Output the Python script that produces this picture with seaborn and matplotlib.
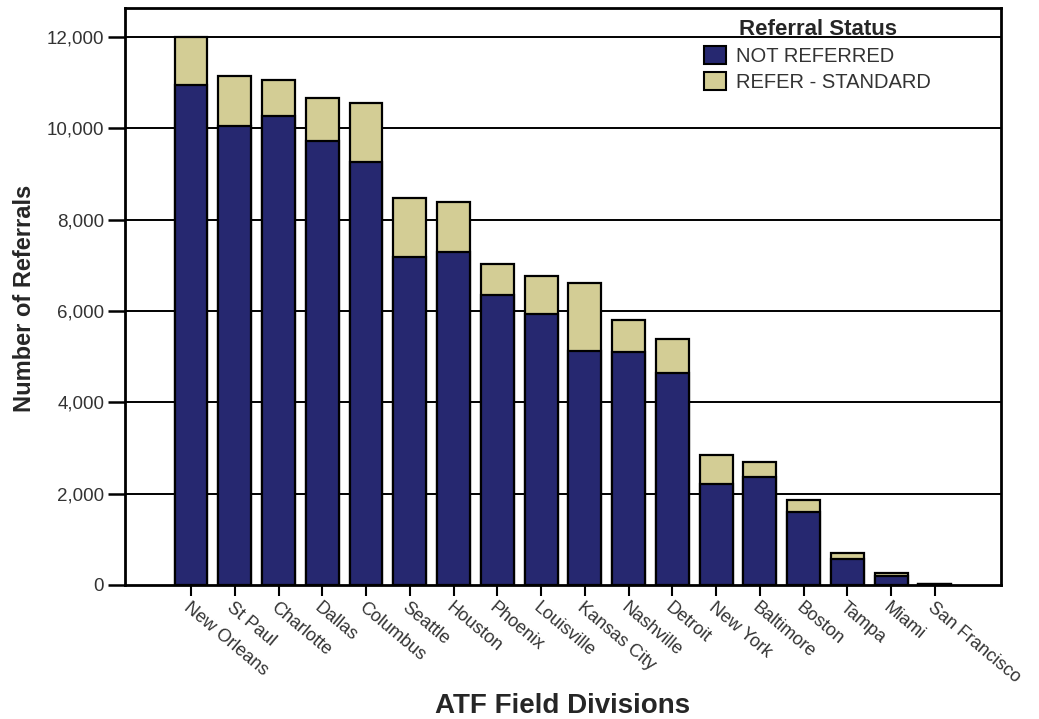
import numpy as np
import pandas as pd
import matplotlib
matplotlib.use("Agg")
import matplotlib.pyplot as plt
import matplotlib.ticker as ticker
from matplotlib.patches import Patch
import seaborn as sns

divisions = ["New Orleans", "St Paul", "Charlotte", "Dallas", "Columbus", "Seattle",
             "Houston", "Phoenix", "Louisville", "Kansas City", "Nashville", "Detroit",
             "New York", "Baltimore", "Boston", "Tampa", "Miami", "San Francisco"]
not_referred = [10950, 10040, 10280, 9720, 9260, 7190, 7290, 6340, 5930, 5120,
                5110, 4650, 2210, 2360, 1600, 570, 200, 20]
refer_standard = [1050, 1110, 780, 950, 1300, 1280, 1090, 680, 840, 1500,
                  690, 730, 640, 330, 260, 125, 55, 10]
status_labels = ["NOT REFERRED", "REFER - STANDARD"]

dark = "#262870"
tan = "#d3cd95"

df = pd.DataFrame({"division": divisions,
                   "not_referred": not_referred,
                   "refer_standard": refer_standard})
df["total"] = df["not_referred"] + df["refer_standard"]

sns.set_style("white")
plt.rcParams["font.family"] = ["Liberation Sans", "DejaVu Sans"]

fig = plt.figure(figsize=(10.39, 7.19), dpi=100)
ax = fig.add_axes([0.1203, 0.1864, 0.8431, 0.8025])

# gridlines behind the bars
for y in range(2000, 12001, 2000):
    ax.axhline(y, color="black", lw=1.4, zorder=0)

# stacked: draw totals in tan, then the not-referred part on top
sns.barplot(data=df, x="division", y="total", order=divisions, color=tan,
            edgecolor="black", linewidth=1.6, width=0.75, saturation=1, ax=ax, zorder=2)
sns.barplot(data=df, x="division", y="not_referred", order=divisions, color=dark,
            edgecolor="black", linewidth=1.6, width=0.75, saturation=1, ax=ax, zorder=3)

ax.set_xlim(-1.51, 18.51)
ax.set_ylim(0, 12635)
ax.yaxis.set_major_locator(ticker.MultipleLocator(2000))
ax.yaxis.set_major_formatter(ticker.FuncFormatter(lambda v, p: f"{int(v):,}"))

for s in ax.spines.values():
    s.set_color("black")
    s.set_linewidth(2)

ax.tick_params(axis="y", which="major", length=12, width=1.8, color="black",
               labelsize=13.5, labelcolor="#333333", pad=3, left=True)
ax.tick_params(axis="x", which="major", length=8, width=1.5, color="black",
               labelsize=13, labelcolor="#333333", pad=2, bottom=True)
ax.set_xticks(range(len(divisions)))
ax.set_xticklabels(divisions, rotation=-40, ha="left", rotation_mode="anchor")
ax.set_xlabel("")
ax.set_ylabel("")

fig.text(0.024, 0.585, "Number of Referrals", rotation=90, ha="center", va="center",
         fontsize=17, fontweight="bold", stretch="condensed",
         family=["Liberation Sans Narrow", "Liberation Sans", "DejaVu Sans"])
fig.text(0.541, 0.018, "ATF Field Divisions", ha="center", va="center",
         fontsize=20, fontweight="bold")

handles = [Patch(facecolor=dark, edgecolor="black", linewidth=1.5),
           Patch(facecolor=tan, edgecolor="black", linewidth=1.5)]
leg = ax.legend(handles, status_labels, title="Referral Status", frameon=False,
                loc="upper left", bbox_to_anchor=(0.645, 1.005), fontsize=14.5,
                title_fontproperties={"weight": "bold", "size": 16},
                handlelength=1.1, handleheight=1.0, handletextpad=0.5,
                labelspacing=0.3, borderaxespad=0.3)
for t in leg.get_texts():
    t.set_color("#333333")

fig.savefig("out.png", dpi=100)
